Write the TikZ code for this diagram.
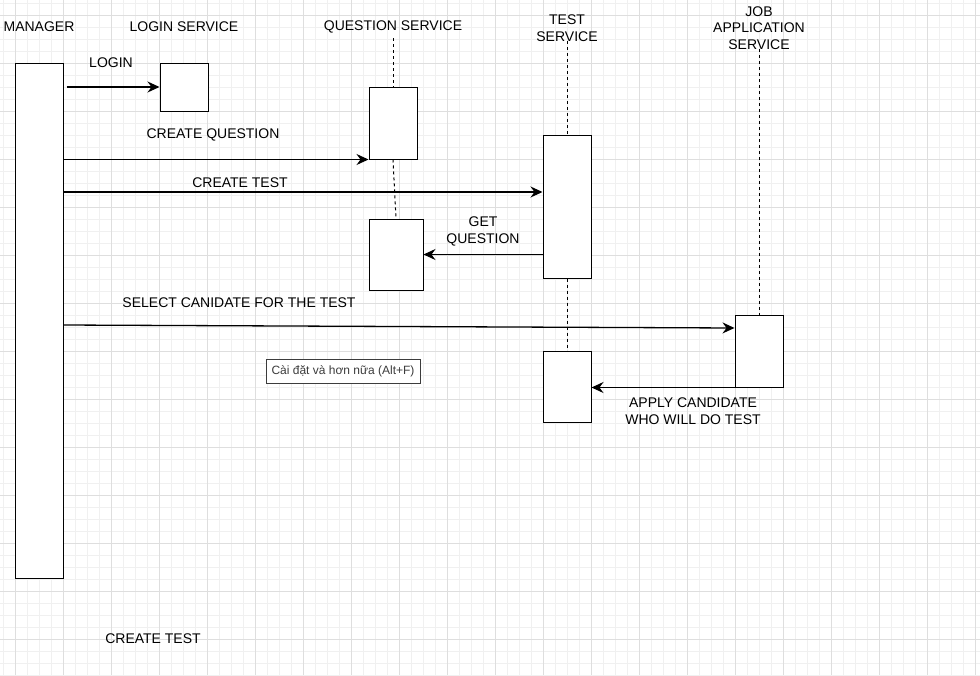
\documentclass[tikz,border=0pt]{standalone}
\usepackage{fontspec}
\setmainfont{Liberation Sans}
\usetikzlibrary{arrows.meta}
\definecolor{gridminor}{RGB}{240,240,240}
\definecolor{gridmajor}{RGB}{222,222,222}
\definecolor{tipgray}{RGB}{60,60,60}
\tikzset{
  actbox/.style={draw=black,fill=white,line width=1pt,inner sep=0pt},
  msg/.style={line width=1.3pt,-{Stealth[length=12pt,width=11pt,inset=4pt]}},
  life/.style={line width=1pt,dash pattern=on 3pt off 3pt},
  lbl/.style={font=\fontsize{14}{16.8}\selectfont,align=center,inner sep=0pt}
}
\begin{document}
\begin{tikzpicture}[x=1pt,y=-1pt]
\useasboundingbox (0,0) rectangle (980,675);
\fill[white] (0,0) rectangle (980,675);
% grid
\foreach \x in {3,15,...,975} \draw[gridminor,line width=0.8pt] (\x,0) -- (\x,675);
\foreach \y in {3,15,...,675} \draw[gridminor,line width=0.8pt] (0,\y) -- (980,\y);
\foreach \x in {15,63,...,975} \draw[gridmajor,line width=0.8pt] (\x,0) -- (\x,675);
\foreach \y in {15,63,...,675} \draw[gridmajor,line width=0.8pt] (0,\y) -- (980,\y);
% participants
\node (mlabel) at (39,27) [lbl] {MANAGER};
\node (llabel) at (184,27) [lbl] {LOGIN SERVICE};
\node (qlabel) at (393,27) [lbl] {QUESTION SERVICE};
\node (tlabel) at (567,28) [lbl] {TEST\\SERVICE};
\node (jlabel) at (759,28) [lbl] {JOB\\APPLICATION\\SERVICE};
% activation boxes
\node (manager) at (39,320.5) [actbox,minimum width=48pt,minimum height=515pt] {};
\node (loginbox) at (184,87) [actbox,minimum width=48pt,minimum height=48pt] {};
\node (qbox1) at (393,123) [actbox,minimum width=48pt,minimum height=72pt] {};
\node (qbox2) at (396,254.5) [actbox,minimum width=54pt,minimum height=71pt] {};
\node (tbox1) at (567,206.5) [actbox,minimum width=48pt,minimum height=143pt] {};
\node (tbox2) at (567,386.5) [actbox,minimum width=48pt,minimum height=71pt] {};
\node (jbox) at (759,351) [actbox,minimum width=48pt,minimum height=72pt] {};
% lifelines
\coordinate (qtop) at (393,38);
\coordinate (ttop) at (567,41);
\coordinate (jtop) at (759,49);
\draw[life] (qtop) -- (qbox1.north);
\draw[life] (qbox1.south) -- (qbox2.north);
\draw[life] (ttop) -- (tbox1.north);
\draw[life] (tbox1.south) -- (tbox2.north);
\draw[life] (jtop) -- (jbox.north);
% messages
\coordinate (ctest) at (0,192);
\coordinate (csel) at (0,325);
\draw[msg,shorten <=3pt] (manager.east |- loginbox.west) -- (loginbox.west);
\draw[msg] (manager.east |- qbox1.south west) -- (qbox1.south west);
\draw[msg] (manager.east |- ctest) -- (tbox1.west |- ctest);
\draw[msg] (tbox1.west |- qbox2.east) -- (qbox2.east);
\draw[msg] (manager.east |- csel) -- ([yshift=23pt]jbox.west);
\draw[msg] (jbox.south west) -- (tbox2.east |- jbox.south west);
% message labels
\node (login) at (111,63) [lbl] {LOGIN};
\node (cquest) at (213,135) [lbl] {CREATE QUESTION};
\node (ctestl) at (240,183) [lbl] {CREATE TEST};
\node (getq) at (483,231.5) [lbl] {GET\\QUESTION};
\node (selc) at (239,303) [lbl] {SELECT CANIDATE FOR THE TEST};
\node (applyc) at (693,411.5) [lbl] {APPLY CANDIDATE\\WHO WILL DO TEST};
\node (ctest2) at (153,639) [lbl] {CREATE TEST};
% tooltip
\node (tooltip) at (343,371) [draw=tipgray,fill=white,line width=1pt,minimum width=154pt,minimum height=24pt,inner sep=0pt,text=tipgray,font=\fontsize{12}{14}\selectfont] {Cài đặt và hơn nữa (Alt+F)};
\end{tikzpicture}
\end{document}
